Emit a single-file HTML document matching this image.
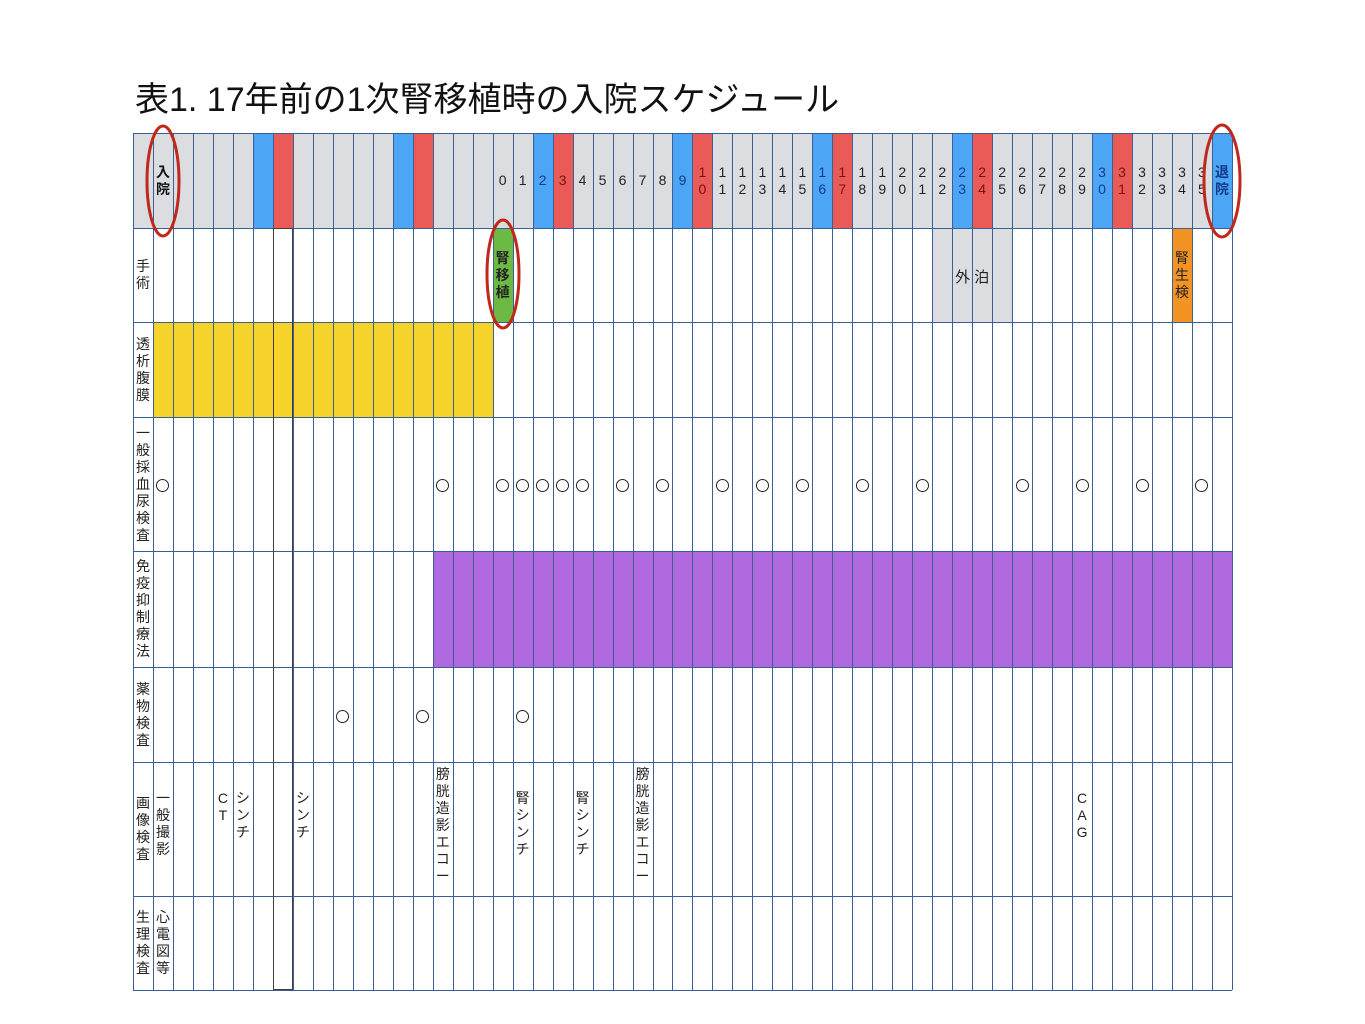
<!DOCTYPE html>
<html><head><meta charset="utf-8">
<style>
body{margin:0;background:#fff;width:1365px;height:1024px;overflow:hidden;position:relative;font-family:"Liberation Sans","Noto Sans CJK JP",sans-serif;}
#title{position:absolute;left:135px;top:72px;font-size:34px;color:#111;white-space:nowrap;letter-spacing:0px}
.cell{position:absolute;box-sizing:border-box}
.vt{position:absolute;text-align:center;font-size:14px;line-height:17px;color:#222;width:20px}
.circ{position:absolute;width:13px;height:13px;border:1.3px solid #222;border-radius:50%;box-sizing:border-box}
</style></head><body>
<div id="title">表1. 17年前の1次腎移植時の入院スケジュール</div>
<div id="grid"></div>
<svg id="ov" width="1365" height="1024" style="position:absolute;left:0;top:0;pointer-events:none"></svg>
<script>
const X0=153, CW=19.98, LEFT=133, RIGHT=1232;
const rowY=[133,228,322,417,551,667,762,896,990];
const rowLabels=["","手術","透析腹膜","一般採血尿検査","免疫抑制療法","薬物検査","画像検査","生理検査"];
const rowLabelCodes=["header","surgery","dialysis","blood-urine","immuno","drug","imaging","physio"];
const nCols=54;
// header labels per column
const headerLabels=[];
for(let c=0;c<nCols;c++){let d=c-17; headerLabels.push(c===0?"入院":c===53?"退院":(d>=0?String(d):""));}
const blueCols=[5,12,19,26,33,40,47,53];
const redCols=[6,13,20,27,34,41,48];
const bloodCols=[0,14,17,18,19,20,21,23,25,28,30,32,35,38,43,46,49,52];
const drugCols=[9,13,18];
const imaging=[[0,"一般撮影"],[3,"CT"],[4,"シンチ"],[7,"シンチ"],[14,"膀胱造影エコー"],[18,"腎シンチ"],[21,"腎シンチ"],[24,"膀胱造影エコー"],[46,"CAG"]];
const dialysisRange=[0,16];
const immunoRange=[14,53];
const gaihakuRange=[39,42];
const surgeryCol=17, biopsyCol=51;

const g=document.getElementById('grid');
function cx(c){return X0+c*CW;}
function box(x,y,w,h,bg,name){const d=document.createElement('div');d.className='cell';d.style.cssText=`left:${x}px;top:${y}px;width:${w}px;height:${h}px;background:${bg}`;


g.appendChild(d);return d;}
function vtext(x,y,h,txt,name,opts){const d=document.createElement('div');d.className='vt';d.innerHTML=txt.split('').join('<br>');
d.style.left=x+'px';d.style.top=y+'px';d.style.height=h+'px';d.style.display='flex';d.style.alignItems='center';d.style.justifyContent='center';
if(opts)Object.assign(d.style,opts);


g.appendChild(d);return d;}
// header background
box(LEFT,133,RIGHT-LEFT,95,'#dcdde1','header-band');
blueCols.forEach(c=>box(cx(c),133,CW,95,'#4da6f5','weekend-blue-col'));
redCols.forEach(c=>box(cx(c),133,CW,95,'#ea5b57','weekend-red-col'));
// fills
box(cx(dialysisRange[0]),322,(dialysisRange[1]-dialysisRange[0]+1)*CW,95,'#f6d32a','dialysis-bar');
box(cx(immunoRange[0]),551,(immunoRange[1]-immunoRange[0]+1)*CW,116,'#b069de','immunosuppression-bar');
box(cx(gaihakuRange[0]),228,(gaihakuRange[1]-gaihakuRange[0]+1)*CW,94,'#dcdde1','overnight-leave');
box(cx(surgeryCol),228,CW,94,'#6cb944','transplant-surgery');
box(cx(biopsyCol),228,CW,94,'#f39324','kidney-biopsy');
// grid lines
for(let c=0;c<=nCols;c++){box(Math.round(cx(c))-0.5,133,1.3,857,'#3a5f95','v-line');}
box(LEFT,133,1.3,857,'#3a5f95','v-line');
rowY.forEach(y=>box(LEFT,y-0.5,RIGHT-LEFT,1.5,'#3a5f95','h-line'));
// dark column outline
const dk=box(cx(6),228,CW,762,'transparent','dark-column-outline');dk.style.border='1.3px solid #4a3a3a';
// header text
headerLabels.forEach((t,c)=>{if(!t)return;let col='#222';if(blueCols.includes(c))col='#123a8a';if(redCols.includes(c))col='#7a1010';
const bold=(c===0||c===53);
vtext(cx(c),133,95,t,'day-label',{color:(c===0?'#111':col),fontWeight:bold?'bold':'normal',fontSize:'14px'});});
// row labels
rowLabels.forEach((t,i)=>{if(!t)return;vtext(LEFT,rowY[i],rowY[i+1]-rowY[i],t,'row-label-'+rowLabelCodes[i]);});
vtext(cx(0),896,94,"心電図等",'ecg-label');
// surgery text
vtext(cx(surgeryCol),228,94,"腎移植",'transplant-label',{fontWeight:'bold'});
vtext(cx(biopsyCol),228,94,"腎生検",'biopsy-label');
const gh=document.createElement('div');gh.textContent='外 泊';gh.style.cssText=`position:absolute;left:${cx(39)}px;top:266px;width:${4*CW}px;text-align:center;font-size:15px;color:#222`;


g.appendChild(gh);
// circles
function circ(c,y,name){const d=document.createElement('div');d.className='circ';d.style.left=(cx(c)+CW/2-6.5)+'px';d.style.top=(y-6.5)+'px';


g.appendChild(d);}
bloodCols.forEach(c=>circ(c,485,'blood-test-mark'));
drugCols.forEach(c=>circ(c,716,'drug-test-mark'));
// imaging
imaging.forEach(([c,t])=>{const top=t.length>=6?766:(c===0?790:790);vtext(cx(c),top,t.length*17+4,t,'imaging-item',{alignItems:'flex-start'});});
// ovals
const ov=document.getElementById('ov');
[[163,181,16,55],[503,274,16,54],[1222,181,18,56]].forEach(o=>{const e=document.createElementNS('http://www.w3.org/2000/svg','ellipse');
e.setAttribute('cx',o[0]);e.setAttribute('cy',o[1]);e.setAttribute('rx',o[2]);e.setAttribute('ry',o[3]);
e.setAttribute('fill','none');e.setAttribute('stroke','#c0281c');e.setAttribute('stroke-width','3');


ov.appendChild(e);});
</script>
</body></html>
